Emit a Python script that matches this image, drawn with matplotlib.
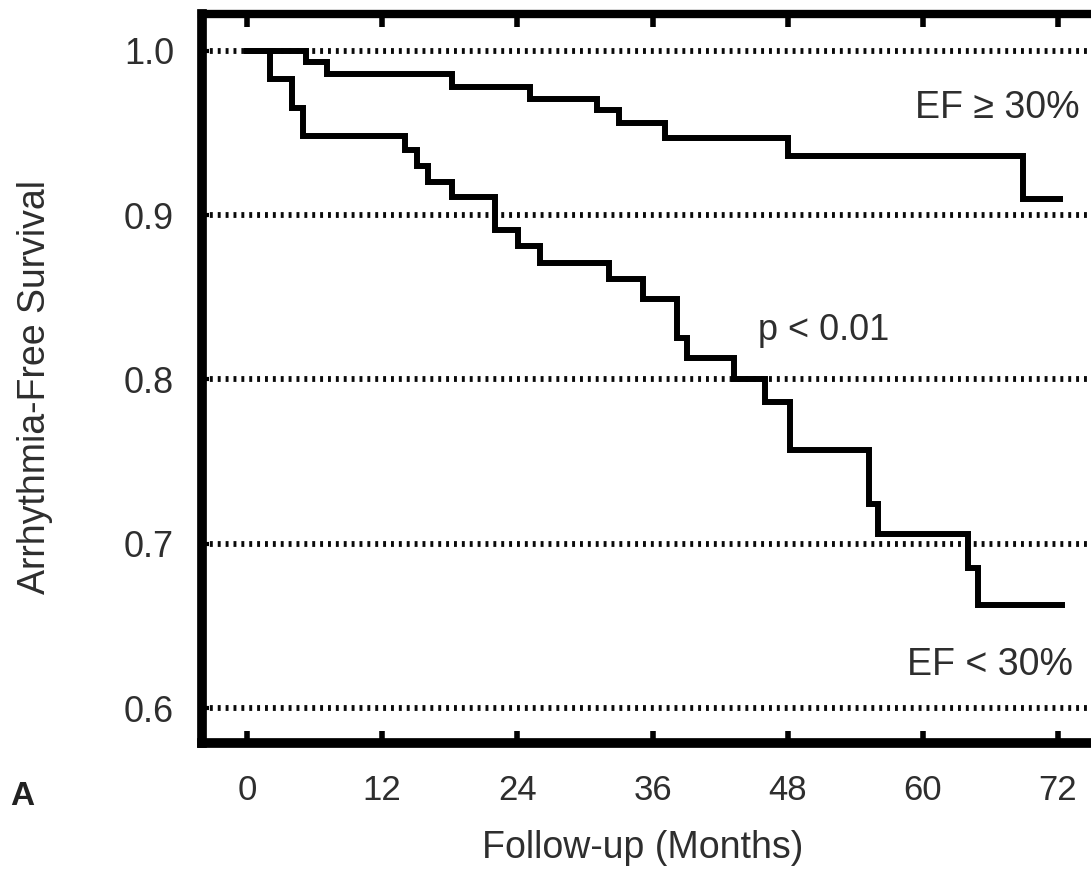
import matplotlib
matplotlib.use("Agg")
import matplotlib.pyplot as plt

# ---- data ----
months_hi = [0, 5.2, 7.1, 18.2, 25.1, 31.1, 33.0, 37.1, 48.0, 68.9, 72.2]
surv_hi = [1.0, 0.993, 0.986, 0.978, 0.971, 0.964, 0.956, 0.947, 0.936, 0.910, 0.910]

months_lo = [0, 2.0, 4.0, 5.0, 14.0, 15.1, 16.1, 18.2, 22.0, 24.1, 26.0, 32.1,
             35.2, 38.2, 39.1, 43.2, 46.0, 48.2, 55.2, 56.0, 64.0, 64.9, 72.4]
surv_lo = [1.0, 0.983, 0.965, 0.948, 0.940, 0.930, 0.920, 0.911, 0.891, 0.881,
           0.871, 0.861, 0.849, 0.825, 0.813, 0.800, 0.786, 0.757, 0.724, 0.706,
           0.685, 0.663, 0.663]

x_ticks = [0, 12, 24, 36, 48, 60, 72]
x_tick_labels = ["0", "12", "24", "36", "48", "60", "72"]
y_ticks = [0.6, 0.7, 0.8, 0.9, 1.0]
y_tick_labels = ["0.6", "0.7", "0.8", "0.9", "1.0"]

label_hi = "EF \u2265 30%"
label_lo = "EF < 30%"
p_text = "p < 0.01"
x_label = "Follow-up (Months)"
y_label = "Arrhythmia-Free Survival"
panel = "A"

plt.rcParams["font.family"] = ["Liberation Sans", "DejaVu Sans"]
TXT = "#2e2e2e"

W, H = 1091, 872
fig = plt.figure(figsize=(W / 100, H / 100), dpi=100)
fig.patch.set_facecolor("white")

# axes placed in pixel terms; right edge runs off the figure as in the reference
left_px, right_px, top_px, bot_px = 202, 1103, 14, 743
ax = fig.add_axes([left_px / W, 1 - bot_px / H, (right_px - left_px) / W, (bot_px - top_px) / H])

ax.set_xlim(-4, 76)
ax.set_ylim(0.5787, 1.0225)

ax.step(months_hi, surv_hi, where="post", color="black", lw=4.3,
        solid_joinstyle="miter", solid_capstyle="projecting", zorder=3)
ax.step(months_lo, surv_lo, where="post", color="black", lw=4.3,
        solid_joinstyle="miter", solid_capstyle="projecting", zorder=3)

ax.set_xticks(x_ticks)
ax.set_xticklabels(x_tick_labels)
ax.set_yticks(y_ticks)
ax.set_yticklabels(y_tick_labels)

ax.grid(axis="y", color="#0a0a0a", lw=4.2, linestyle=(0, (0.5, 0.85)))
ax.grid(axis="x", visible=False)
ax.set_axisbelow(True)

ax.tick_params(axis="x", which="major", top=True, bottom=True, direction="in",
               length=9, width=4, pad=22, labelsize=25, labelcolor=TXT, color="black")
ax.tick_params(axis="y", which="major", left=True, right=False, direction="in",
               length=5, width=3, pad=20, labelsize=26, labelcolor=TXT, color="black")

for side in ["left", "bottom"]:
    ax.spines[side].set_linewidth(7)
ax.spines["top"].set_linewidth(6)
ax.spines["right"].set_linewidth(6)

ax.text(59.3, 0.9592, label_hi, fontsize=27, color=TXT, ha="left", va="baseline")
ax.text(45.4, 0.8240, p_text, fontsize=26, color=TXT, ha="left", va="baseline")
ax.text(58.6, 0.6201, label_lo, fontsize=27, color=TXT, ha="left", va="baseline")

ax.set_xlabel(x_label, fontsize=27, color=TXT, va="center")
ax.xaxis.set_label_coords(643 / W, 1 - 848 / H, transform=fig.transFigure)
ax.set_ylabel(y_label, fontsize=27, color=TXT, va="center")
ax.yaxis.set_label_coords(35 / W, 1 - 387 / H, transform=fig.transFigure)

fig.text(10 / W, 1 - 796 / H, panel, fontsize=24, fontweight="bold", color="#222222",
         ha="left", va="center")

fig.savefig("out.png", dpi=100, facecolor="white")
